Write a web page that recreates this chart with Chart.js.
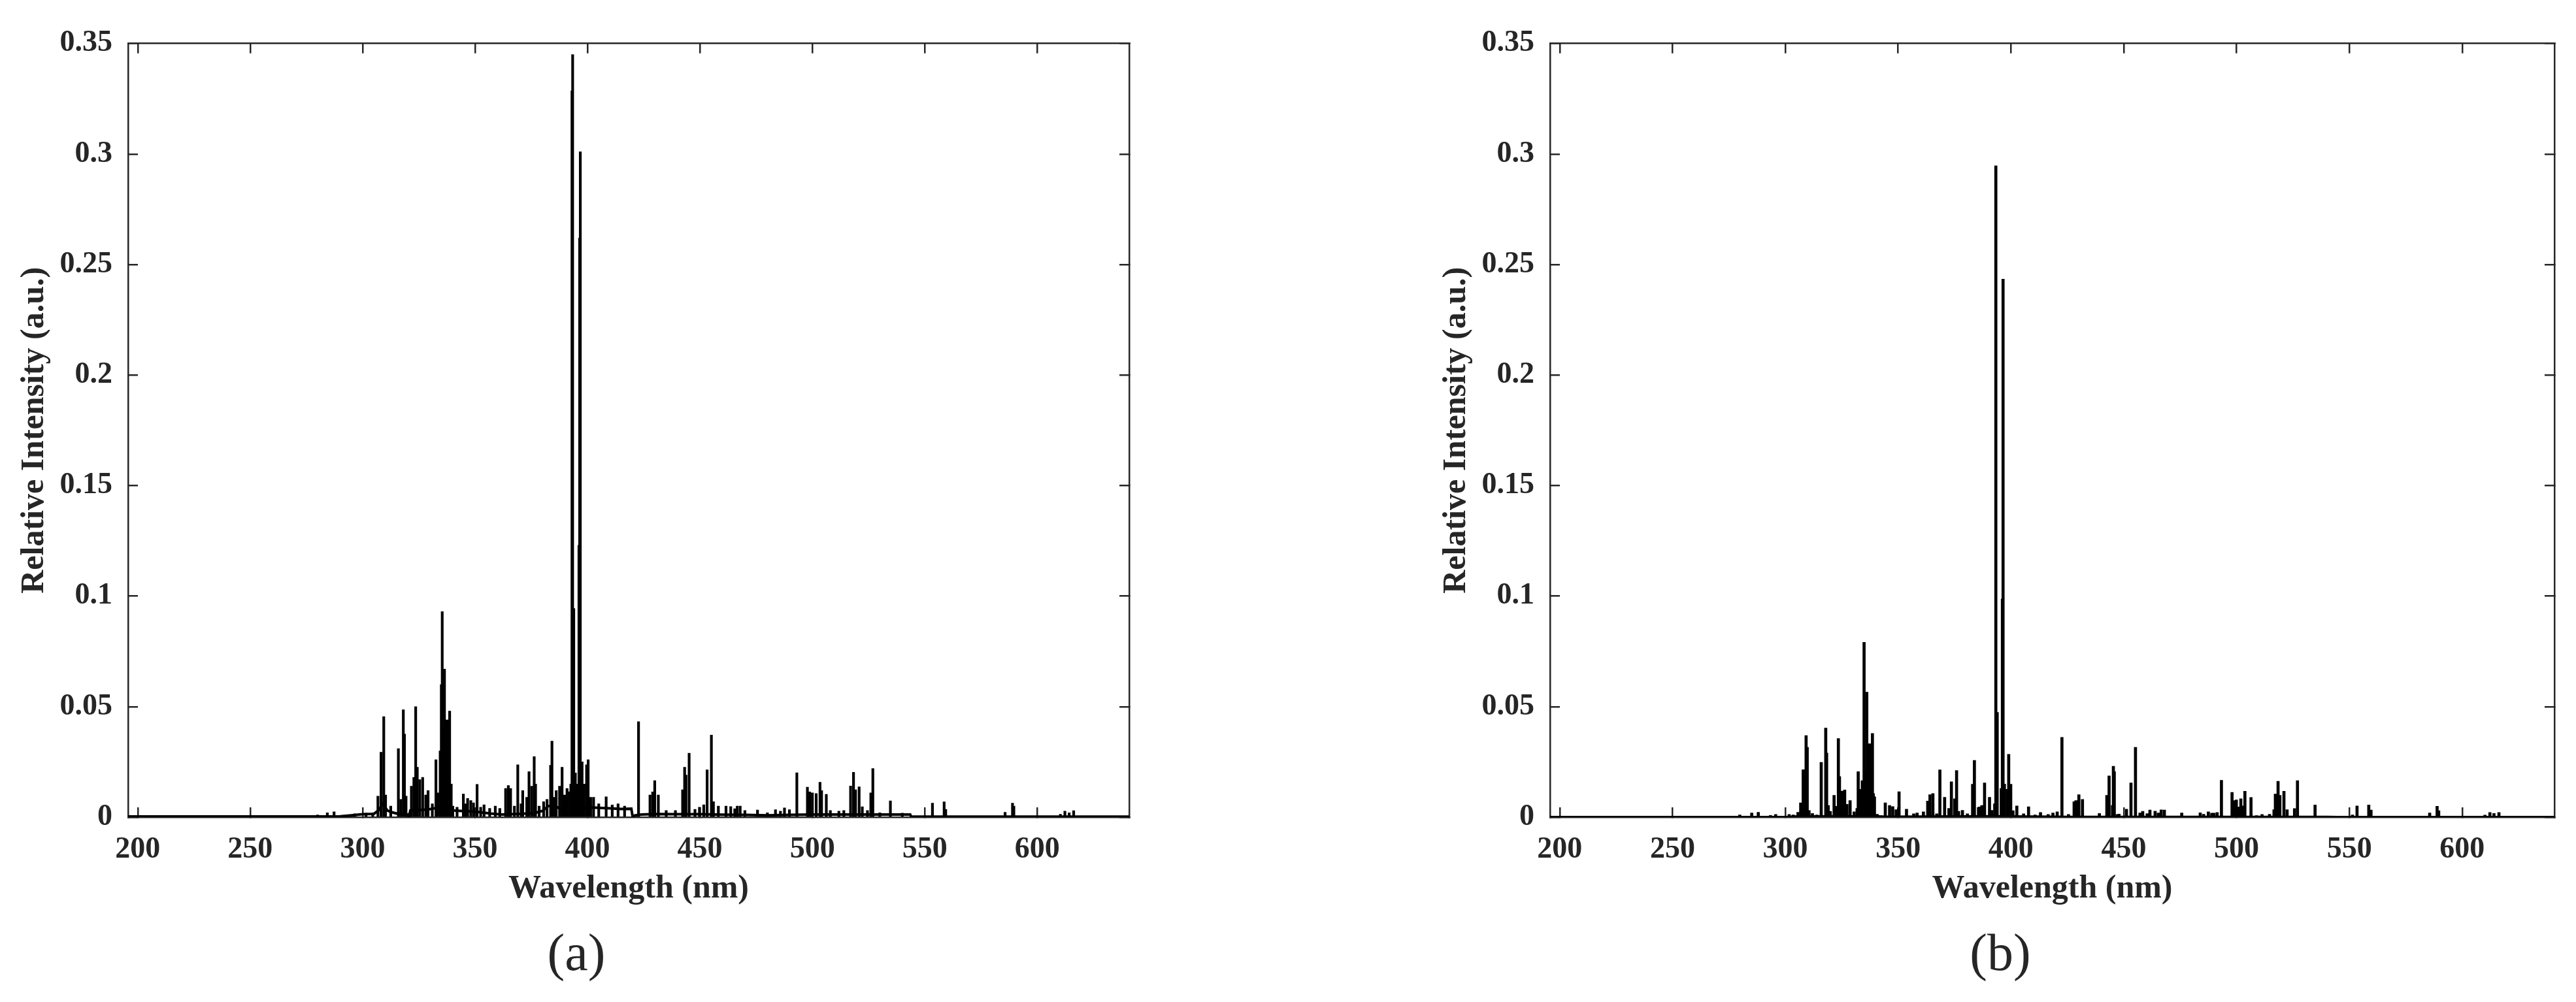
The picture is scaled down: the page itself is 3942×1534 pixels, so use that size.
<!DOCTYPE html>
<html>
<head>
<meta charset="utf-8">
<script src="https://cdn.jsdelivr.net/npm/chart.js@4.4.1/dist/chart.umd.min.js"></script>
<style>
  html, body { margin: 0; padding: 0; background: #fff; }
  body { width: 3942px; height: 1534px; position: relative; overflow: hidden; }
  canvas { position: absolute; top: 0; }
  #chartA { left: 0; }
  #chartB { left: 1971px; }
  .tag { position: absolute; top: 1418px; font-family: 'Liberation Serif', serif; font-size: 80px; line-height: 1; color: #262626; transform: translateX(-50%); }
</style>
</head>
<body>
<canvas id="chartA" width="1971" height="1534"></canvas>
<canvas id="chartB" width="1971" height="1534"></canvas>
<div class="tag" style="left:882px">(a)</div>
<div class="tag" style="left:3061px">(b)</div>
<script>
// ejes
const xTicks = [200, 250, 300, 350, 400, 450, 500, 550, 600];
const yTicks = [0, 0.05, 0.1, 0.15, 0.2, 0.25, 0.3, 0.35];
const yTickLabels = ['0', '0.05', '0.1', '0.15', '0.2', '0.25', '0.3', '0.35'];
const xMin = 195.7, xMax = 640.9;

// (a) fondo continuo
const contNmA = [195.7, 290, 295, 300, 305, 307, 309, 311, 313, 316,
  320, 320.6, 321.2, 325, 330, 333, 337, 340, 345, 350,
  357, 362, 370, 376, 380, 382.5, 385, 388, 392, 395,
  398, 401, 405, 410, 415, 419.5, 420.1, 421, 424, 430,
  440, 450, 460, 470, 480, 490, 500, 510, 520, 530,
  540, 543.5, 544, 560, 580, 600, 620, 640.9];
const contA = [0.0003, 0.0004, 0.0008, 0.0013, 0.0015, 0.003, 0.006, 0.003, 0.0022, 0.0014,
  0.0012, 0.0, 0.003, 0.0032, 0.0036, 0.0042, 0.004, 0.003, 0.0027, 0.0025,
  0.0016, 0.0012, 0.0015, 0.0018, 0.0028, 0.005, 0.0052, 0.0038, 0.0045, 0.005,
  0.0042, 0.0044, 0.0042, 0.004, 0.0037, 0.0038, 0.0, 0.0008, 0.0012, 0.0014,
  0.0013, 0.0013, 0.0011, 0.001, 0.0008, 0.001, 0.0012, 0.0012, 0.0012, 0.0012,
  0.0012, 0.0012, 0.0002, 0.0002, 0.0002, 0.0002, 0.0002, 0.0002];

// (a) lineas
const peakNmA = [
  280.0, 284.3, 287.3, 296.5, 301.5, 304.5,
  306.8, 308.2, 309.4, 310.2, 312.5,
  315.9, 317.0, 318.1, 318.6, 319.3,
  321.7, 322.8, 323.6, 324.3, 325.4, 326.7, 328.1, 329.1, 331.0,
  332.6, 333.6, 334.5, 335.0, 335.4, 336.0, 336.4, 337.0, 337.5, 338.2, 338.7, 339.4, 340.1,
  342.0, 344.8, 345.8, 346.7, 348.1, 349.3, 350.9, 352.5, 354.0, 356.5, 359.0, 361.0,
  363.6, 364.8, 365.8, 367.5, 369.0, 370.5, 371.2, 373.0, 374.0, 375.2, 376.3, 376.9, 378.5,
  380.5, 382.0, 383.6, 384.2, 385.2, 386.1, 387.6, 388.7, 389.8, 390.9, 391.9, 392.6,
  393.1, 393.4, 393.9, 394.6, 395.6, 396.2, 396.5, 396.8, 397.6, 398.5, 399.6, 400.3, 401.4,
  402.7, 405.0, 408.3, 411.0, 413.6, 416.5,
  422.7, 427.8, 429.0, 429.9, 431.5, 435.0, 439.1,
  442.3, 443.2, 443.8, 445.2, 447.8, 449.8, 451.7, 453.2, 455.1, 456.0,
  458.2, 461.6, 463.7, 465.5, 466.6, 467.9, 470.0, 475.6, 480.0, 483.6, 485.8, 487.6, 489.8,
  493.1, 497.8, 498.8, 500.0, 501.7, 503.4, 504.1, 506.2, 508.0, 511.8, 514.0,
  517.0, 518.3, 519.2, 520.8, 522.2, 524.5, 526.0, 526.9, 530.0, 534.7, 540.0,
  553.4, 558.6, 559.3, 577.7, 585.7, 589.0, 589.6, 610.3, 612.3, 614.2, 616.2, 626.2
];
const peakA = [
  0.0010, 0.0020, 0.0024, 0.0015, 0.0018, 0.0020,
  0.0095, 0.0294, 0.0455, 0.0100, 0.0050,
  0.0310, 0.0080, 0.0486, 0.0376, 0.0095,
  0.0140, 0.0180, 0.0500, 0.0226, 0.0170, 0.0180, 0.0100, 0.0120, 0.0060,
  0.0260, 0.0110, 0.0300, 0.0600, 0.0930, 0.0400, 0.0670, 0.0230, 0.0440, 0.0200, 0.0480, 0.0150, 0.0050,
  0.0045, 0.0105, 0.0060, 0.0085, 0.0075, 0.0065, 0.0148, 0.0045, 0.0056, 0.0040, 0.0050, 0.0040,
  0.0130, 0.0143, 0.0130, 0.0050, 0.0237, 0.0060, 0.0120, 0.0090, 0.0206, 0.0140, 0.0274, 0.0150, 0.0050,
  0.0070, 0.0080, 0.0235, 0.0344, 0.0090, 0.0120, 0.0140, 0.0226, 0.0100, 0.0130, 0.0115, 0.0150,
  0.3286, 0.3450, 0.0944, 0.0200, 0.0150, 0.1230, 0.2620, 0.3010, 0.0250, 0.0150, 0.0237, 0.0260, 0.0090,
  0.0090, 0.0060, 0.0092, 0.0055, 0.0060, 0.0050,
  0.0432, 0.0100, 0.0114, 0.0165, 0.0100, 0.0030, 0.0030,
  0.0124, 0.0226, 0.0190, 0.0289, 0.0035, 0.0045, 0.0056, 0.0214, 0.0371, 0.0070,
  0.0050, 0.0050, 0.0048, 0.0038, 0.0050, 0.0050, 0.0030, 0.0032, 0.0020, 0.0034, 0.0027, 0.0042, 0.0034,
  0.0201, 0.0136, 0.0114, 0.0110, 0.0107, 0.0158, 0.0120, 0.0103, 0.0030, 0.0027, 0.0030,
  0.0141, 0.0203, 0.0124, 0.0137, 0.0047, 0.0030, 0.0110, 0.0220, 0.0020, 0.0074, 0.0018,
  0.0063, 0.0069, 0.0035, 0.0005, 0.0022, 0.0063, 0.0050, 0.0013, 0.0027, 0.0020, 0.0029, 0.0005
];

// (b) fondo continuo
const contNmB = [195.7, 300, 305, 340, 345, 392, 400, 420, 425, 540, 545, 640.9];
const contB = [0.0002, 0.0002, 0.0005, 0.0006, 0.0004, 0.0006, 0.0005, 0.0004, 0.0003, 0.0003, 0.0002, 0.0002];

// (b) lineas
const peakNmB = [
  279.8, 285.1, 288.0, 293.4, 295.7, 301.7, 303.5, 305.6,
  306.8, 307.9, 308.3, 309.2, 309.7, 310.5, 312.0, 314.0,
  315.9, 317.9, 318.3, 319.0, 319.9,
  321.6, 322.5, 323.5, 324.0, 325.1, 326.3, 327.3, 328.7, 330.5, 331.8,
  332.3, 333.0, 334.1, 334.9, 335.5, 336.1, 336.7, 337.4, 338.6, 339.0, 339.5, 340.7,
  344.3, 346.2, 347.6, 349.1, 350.4, 353.7, 356.9, 358.4, 361.2,
  363.1, 364.1, 365.4, 367.1, 368.5, 370.6, 372.5, 373.6, 375.1, 375.9, 376.8, 378.5,
  380.7, 383.0, 383.8, 385.6, 386.1, 387.1, 388.3, 390.5, 391.5, 392.8,
  393.3, 393.9, 395.7, 396.2, 396.5, 397.1, 398.3, 399.0, 399.9, 400.9,
  402.6, 405.6, 407.8, 410.7, 413.1, 416.5, 418.6, 420.5,
  422.6, 425.5, 428.0, 428.8, 430.1, 431.7, 435.6, 439.2,
  442.5, 443.5, 445.0, 445.4, 445.8, 447.1, 447.9, 451.2, 453.2, 455.2,
  457.2, 458.4, 460.4, 461.6, 463.9, 465.3, 466.6, 468.0, 475.7,
  483.9, 485.4, 487.5, 489.0, 490.0, 491.4,
  493.3, 498.0, 498.8, 499.9, 500.8, 501.9, 502.7, 503.7, 506.4, 508.9, 511.3, 514.6,
  516.6, 517.2, 518.4, 519.2, 521.0, 522.4, 525.7, 527.0, 534.8,
  551.4, 553.4, 556.3, 558.6, 559.6, 566.1, 585.6, 588.9, 589.6, 610.1, 612.3, 614.1, 616.3, 625.7
];
const peakB = [
  0.0010, 0.0019, 0.0022, 0.0008, 0.0012, 0.0012, 0.0010, 0.0022,
  0.0065, 0.0214, 0.0215, 0.0369, 0.0316, 0.0030, 0.0017, 0.0010,
  0.0248, 0.0403, 0.0290, 0.0053, 0.0026,
  0.0099, 0.0049, 0.0356, 0.0184, 0.0118, 0.0123, 0.0058, 0.0075, 0.0024, 0.0040,
  0.0206, 0.0126, 0.0165, 0.0791, 0.0200, 0.0566, 0.0200, 0.0332, 0.0379, 0.0107, 0.0092, 0.0013,
  0.0065, 0.0053, 0.0048, 0.0034, 0.0115, 0.0036, 0.0015, 0.0019, 0.0024,
  0.0073, 0.0102, 0.0107, 0.0015, 0.0214, 0.0090, 0.0040, 0.0160, 0.0083, 0.0211, 0.0026, 0.0031,
  0.0015, 0.0149, 0.0257, 0.0044, 0.0046, 0.0053, 0.0155, 0.0090, 0.0031, 0.0060,
  0.2947, 0.0474, 0.0130, 0.0987, 0.2434, 0.0150, 0.0126, 0.0284, 0.0149, 0.0029,
  0.0051, 0.0015, 0.0047, 0.0010, 0.0021, 0.0012, 0.0019, 0.0024,
  0.0361, 0.0012, 0.0070, 0.0075, 0.0102, 0.0080, 0.0005, 0.0017,
  0.0099, 0.0187, 0.0053, 0.0230, 0.0206, 0.0012, 0.0014, 0.0036, 0.0155, 0.0316,
  0.0019, 0.0026, 0.0016, 0.0032, 0.0027, 0.0019, 0.0033, 0.0032, 0.0019,
  0.0020, 0.0013, 0.0024, 0.0018, 0.0018, 0.0021,
  0.0167, 0.0112, 0.0075, 0.0078, 0.0046, 0.0083, 0.0051, 0.0117, 0.0089, 0.0007, 0.0012, 0.0013,
  0.0034, 0.0105, 0.0162, 0.0099, 0.0117, 0.0034, 0.0039, 0.0165, 0.0055,
  0.0010, 0.0051, 0.0005, 0.0055, 0.0032, 0.0005, 0.0019, 0.0049, 0.0029, 0.0009, 0.0021, 0.0017, 0.0021, 0.0005
];

const ink = '#262626';
const tickFont = { family: 'Liberation Serif', size: 46, weight: 'bold' };
const titleFont = { family: 'Liberation Serif', size: 50, weight: 'bold' };
const toPoints = (xs, ys) => xs.map((x, i) => ({ x: x, y: ys[i] }));

const drawPanel = (id, contNm, cont, peakNm, peak, padLeft, padRight, barWidth, lineWidth) => {
  const grid = { drawOnChartArea: false, drawTicks: true, tickLength: -15, color: ink, lineWidth: 2.5, offset: false };
  const border = { display: true, color: ink, width: 2.5 };
  const setX = (s) => { s.ticks = xTicks.map((v) => ({ value: v })); };
  const setY = (s) => { s.ticks = yTicks.map((v) => ({ value: v })); };

  new Chart(document.getElementById(id), {
    type: 'bar',
    data: {
      datasets: [
        { type: 'line', data: toPoints(contNm, cont), borderColor: '#000', borderWidth: lineWidth, pointRadius: 0, tension: 0 },
        { type: 'bar', data: toPoints(peakNm, peak), backgroundColor: '#000', borderWidth: 0, barThickness: barWidth }
      ]
    },
    options: {
      responsive: false,
      animation: false,
      devicePixelRatio: 1,
      layout: { padding: { left: padLeft, right: padRight, top: 45, bottom: 0 } },
      plugins: { legend: { display: false }, tooltip: { enabled: false } },
      scales: {
        x: {
          type: 'linear', position: 'bottom', min: xMin, max: xMax, offset: false,
          grid: grid, border: border,
          ticks: { font: tickFont, color: ink, padding: 38, maxRotation: 0, autoSkip: false, callback: (v) => String(v) },
          afterBuildTicks: setX,
          afterFit: (s) => { s.height = 283; },
          title: { display: true, text: 'Wavelength (nm)', font: titleFont, color: ink, padding: { top: 0, bottom: 143 } }
        },
        x2: {
          type: 'linear', position: 'top', min: xMin, max: xMax, offset: false,
          grid: grid, border: border,
          ticks: { display: false },
          afterBuildTicks: setX,
          afterFit: (s) => { s.height = 0; }
        },
        y: {
          type: 'linear', position: 'left', min: 0, max: 0.35,
          grid: grid, border: border,
          ticks: { font: tickFont, color: ink, padding: 39, autoSkip: false, callback: (v, i) => yTickLabels[i] },
          afterBuildTicks: setY,
          afterFit: (s) => { s.width = 196; },
          title: { display: true, text: 'Relative Intensity (a.u.)', font: titleFont, color: ink, padding: { top: 23, bottom: 0 } }
        },
        y2: {
          type: 'linear', position: 'right', min: 0, max: 0.35,
          grid: grid, border: border,
          ticks: { display: false },
          afterBuildTicks: setY,
          afterFit: (s) => { s.width = 0; }
        }
      }
    }
  });
};

drawPanel('chartA', contNmA, contA, peakNmA, peakA, 0, 243, 3.5, 4);
drawPanel('chartB', contNmB, contB, peakNmB, peakB, 205, 33, 4, 2.5);
</script>
</body>
</html>
